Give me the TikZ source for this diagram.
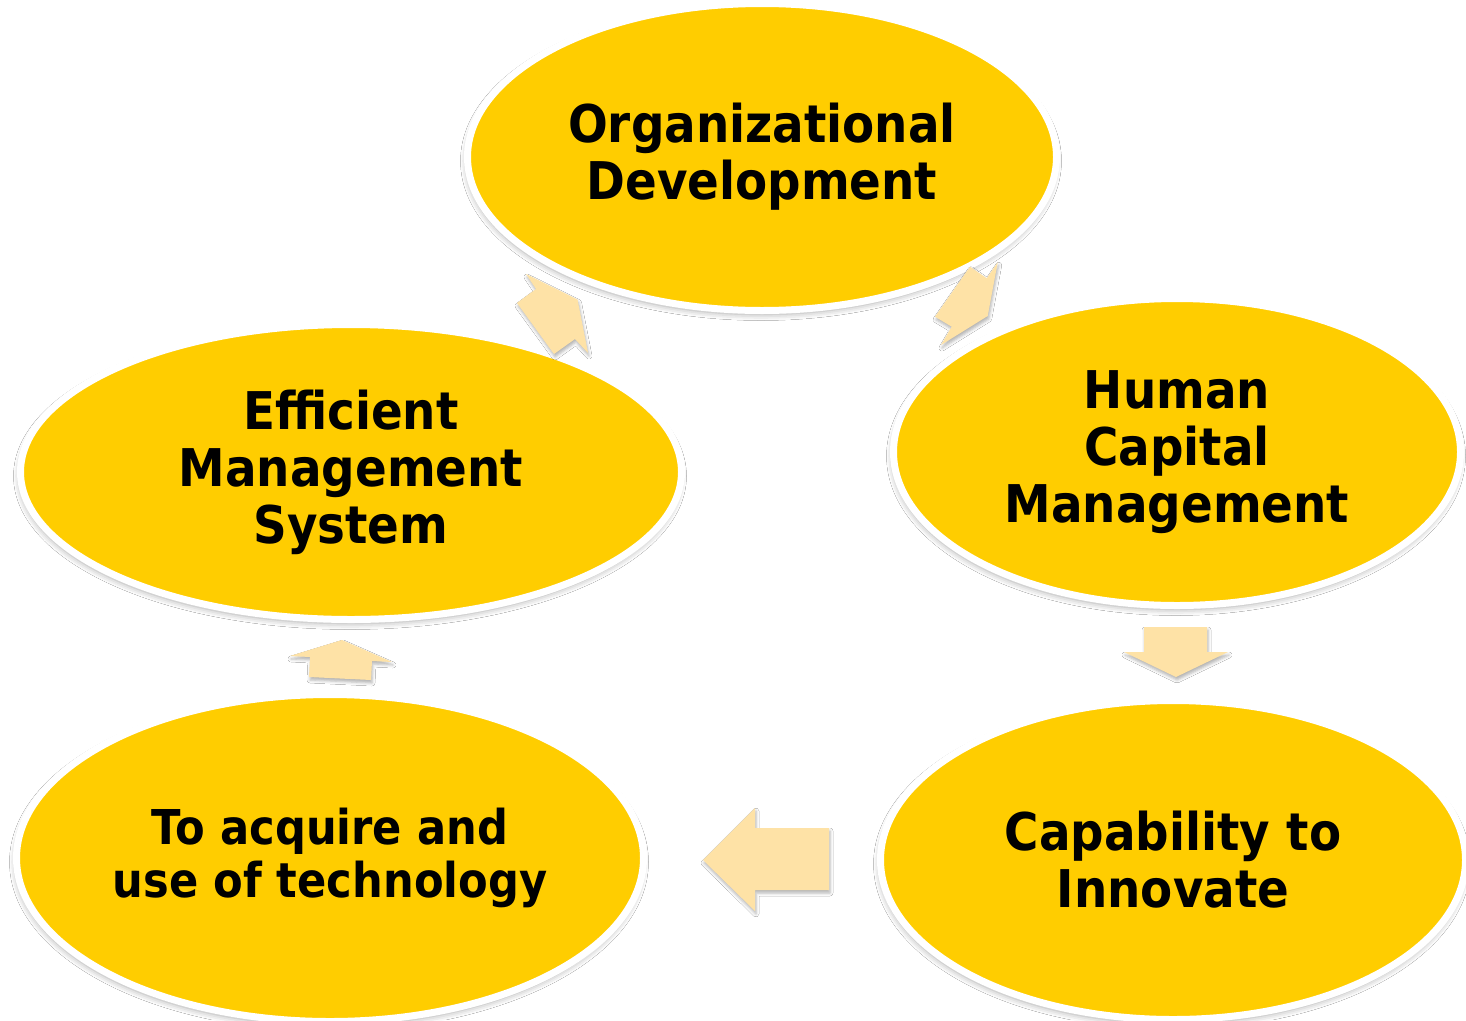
\documentclass[tikz,border=0pt]{standalone}
\usepackage{fontspec}
\setmainfont{DejaVu Sans}[FakeStretch=0.9]
\usetikzlibrary{shapes.geometric,shadows.blur}

\definecolor{discfill}{HTML}{FFCD00}
\definecolor{arrowfill}{HTML}{FEE2A6}

\tikzset{
  disc/.style={ellipse, fill=discfill, draw=white, line width=7pt,
    inner sep=0pt, outer sep=0pt, align=center, text=black,
    font=\fontsize{52}{57}\selectfont\bfseries,
    blur shadow={shadow xshift=-1pt, shadow yshift=-4pt,
                 shadow blur radius=6pt, shadow opacity=35}},
  smalltext/.style={font=\fontsize{48}{53.5}\selectfont\bfseries},
  blockarrow/.style={fill=arrowfill,
    blur shadow={shadow xshift=1pt, shadow yshift=-3pt,
                 shadow blur radius=3pt, shadow opacity=30}},
}

\begin{document}
\begin{tikzpicture}[x=1pt, y=-1pt]
  \fill[white] (0,0) rectangle (1466,1020);
  \useasboundingbox (0,0) rectangle (1466,1020);

  % the five stages of the cycle
  \node[disc, minimum width=589pt, minimum height=307pt] (org) at (762,157)
    {Organizational\\Development};
  \node[disc, minimum width=567pt, minimum height=307pt] (hcm) at (1177,452)
    {Human\\Capital\\Management};
  \node[disc, minimum width=585pt, minimum height=319pt] (inno) at (1173,860)
    {Capability to\\Innovate};
  \node[disc, smalltext, minimum width=627pt, minimum height=327pt] (tech) at (330,858)
    {To acquire and\\use of technology};
  \node[disc, minimum width=661pt, minimum height=295pt] (ems) at (351,472)
    {Efficient\\Management\\System};

  % block arrows leading round the cycle
  % Organizational Development -> Human Capital Management
  \fill[blockarrow] (987.7,316) -- (941,345) -- (951.7,326.7) -- (935,316.7)
    -- (970,266.7) -- (986.7,278.3) -- (997.7,262.3) -- cycle;
  % Human Capital Management -> Capability to Innovate
  \fill[blockarrow] (1176,677) -- (1124,652) -- (1144,652) -- (1144,627)
    -- (1207,627) -- (1207,652) -- (1228,652) -- cycle;
  % Capability to Innovate -> technology
  \fill[blockarrow] (703,860) -- (755,808) -- (755,828) -- (829,828)
    -- (829,890) -- (755,890) -- (755,911) -- cycle;
  % technology -> Efficient Management System
  \fill[blockarrow] (342,640) -- (392,662) -- (372,661) -- (371,680)
    -- (309,677) -- (310,657) -- (290,656) -- cycle;
  % Efficient Management System -> Organizational Development
  \fill[blockarrow] (577.5,299.5) -- (588,353) -- (575,339) -- (554,354)
    -- (517,303) -- (536,289) -- (526,274) -- cycle;
\end{tikzpicture}
\end{document}
